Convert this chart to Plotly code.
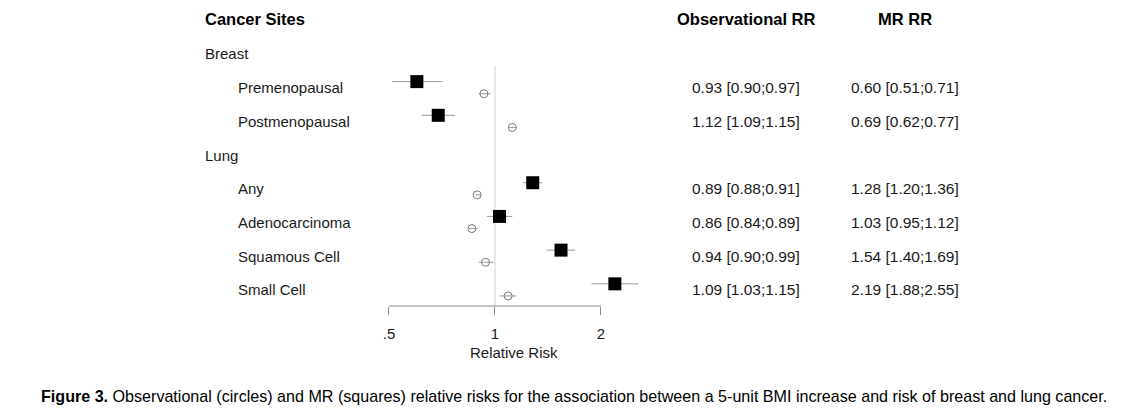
import plotly.graph_objects as go

# ---------------- data ----------------
groups = ["Breast", "Lung"]
sites = ["Premenopausal", "Postmenopausal", "Any", "Adenocarcinoma", "Squamous Cell", "Small Cell"]
site_group = ["Breast", "Breast", "Lung", "Lung", "Lung", "Lung"]

obs_rr = [0.93, 1.12, 0.89, 0.86, 0.94, 1.09]
obs_lo = [0.90, 1.09, 0.88, 0.84, 0.90, 1.03]
obs_hi = [0.97, 1.15, 0.91, 0.89, 0.99, 1.15]

mr_rr = [0.60, 0.69, 1.28, 1.03, 1.54, 2.19]
mr_lo = [0.51, 0.62, 1.20, 0.95, 1.40, 1.88]
mr_hi = [0.71, 0.77, 1.36, 1.12, 1.69, 2.55]

tick_vals = [0.5, 1, 2]
tick_text = [".5", "1", "2"]

# ---------------- layout helpers ----------------
W, H = 1140, 418
FONT = "Liberation Sans, Arial, sans-serif"
TXT = "#1a1a1a"

# row positions (rows numbered top-down; header = 0)
rows = []
group_rows = {}
r = 1
for g in groups:
    group_rows[g] = r
    r += 1
    for s, sg in zip(sites, site_group):
        if sg == g:
            rows.append(r)
            r += 1

def px_x(px):
    return px / W

def fmt(v, lo, hi):
    return f"{v:.2f} [{lo:.2f};{hi:.2f}]"

fig = go.Figure()

# observational (circles)
fig.add_trace(go.Scatter(
    x=obs_rr, y=[k + 0.18 for k in rows], mode="markers",
    marker=dict(symbol="circle-open", size=8, color="#7a7a7a", line=dict(width=1)),
    error_x=dict(type="data", symmetric=False,
                 array=[h - v for h, v in zip(obs_hi, obs_rr)],
                 arrayminus=[v - l for v, l in zip(obs_rr, obs_lo)],
                 color="#9a9a9a", thickness=1, width=0),
    showlegend=False, hoverinfo="skip"))

# MR (squares)
fig.add_trace(go.Scatter(
    x=mr_rr, y=[k - 0.18 for k in rows], mode="markers",
    marker=dict(symbol="square", size=13, color="black"),
    error_x=dict(type="data", symmetric=False,
                 array=[h - v for h, v in zip(mr_hi, mr_rr)],
                 arrayminus=[v - l for v, l in zip(mr_rr, mr_lo)],
                 color="#9a9a9a", thickness=1, width=0),
    showlegend=False, hoverinfo="skip"))

# reference line at RR = 1
fig.add_shape(type="line", xref="x", yref="y", x0=1, x1=1, y0=1.36, y1=8.478,
              line=dict(color="#d2d2d2", width=1), layer="below")
# axis bracket line
fig.add_shape(type="line", xref="x", yref="paper", x0=tick_vals[0], x1=tick_vals[-1], y0=0, y1=0,
              line=dict(color="#8a8a8a", width=1))

ann = []
# headers
for xp, t, anc in [(203, "Cancer Sites", "left"), (746, "Observational RR", "center"), (905, "MR RR", "center")]:
    ann.append(dict(x=px_x(xp), y=-0.04, text=f"<b>{t}</b>", xanchor=anc,
                    font=dict(size=16.5, color="black")))
for g in groups:
    ann.append(dict(x=px_x(203), y=group_rows[g], text=g, xanchor="left",
                    font=dict(size=15, color=TXT)))
for k, s, o, ol, oh, m, ml, mh in zip(rows, sites, obs_rr, obs_lo, obs_hi, mr_rr, mr_lo, mr_hi):
    ann.append(dict(x=px_x(236), y=k, text=s, xanchor="left", font=dict(size=15, color=TXT)))
    ann.append(dict(x=px_x(746), y=k, text=fmt(o, ol, oh), xanchor="center",
                    font=dict(size=15.5, color=TXT)))
    ann.append(dict(x=px_x(905), y=k, text=fmt(m, ml, mh), xanchor="center",
                    font=dict(size=15.5, color=TXT)))
for a in ann:
    a.update(xref="paper", yref="y", yanchor="middle", showarrow=False)

# axis title and caption (paper coords)
ann.append(dict(x=px_x(514), y=(306 - 352) / 306, xref="paper", yref="paper", showarrow=False,
                text="Relative Risk", xanchor="center", yanchor="middle",
                font=dict(size=15, color=TXT)))
ann.append(dict(x=px_x(39), y=(306 - 396) / 306, xref="paper", yref="paper", showarrow=False,
                text="<b>Figure 3.</b> Observational (circles) and MR (squares) relative risks for the "
                     "association between a 5-unit BMI increase and risk of breast and lung cancer.",
                xanchor="left", yanchor="middle", font=dict(size=16.1, color="black")))

fig.update_layout(
    width=W, height=H,
    margin=dict(l=0, r=0, t=0, b=112),
    paper_bgcolor="white", plot_bgcolor="white",
    font=dict(family=FONT, color=TXT),
    annotations=ann,
    xaxis=dict(type="log", range=[-1.4058, 1.8319], domain=[0, 1],
               showgrid=False, zeroline=False, showline=False,
               tickmode="array", tickvals=tick_vals, ticktext=tick_text,
               ticks="outside", ticklen=8, tickcolor="#8a8a8a", tickwidth=1,
               ticklabelstandoff=6,
               tickfont=dict(size=15, color=TXT, family=FONT)),
    yaxis=dict(range=[8.478, -0.602], visible=False, showgrid=False, zeroline=False),
)

fig.write_html("out.html", config={"displayModeBar": False},
               post_script="document.body.style.margin='0';")
